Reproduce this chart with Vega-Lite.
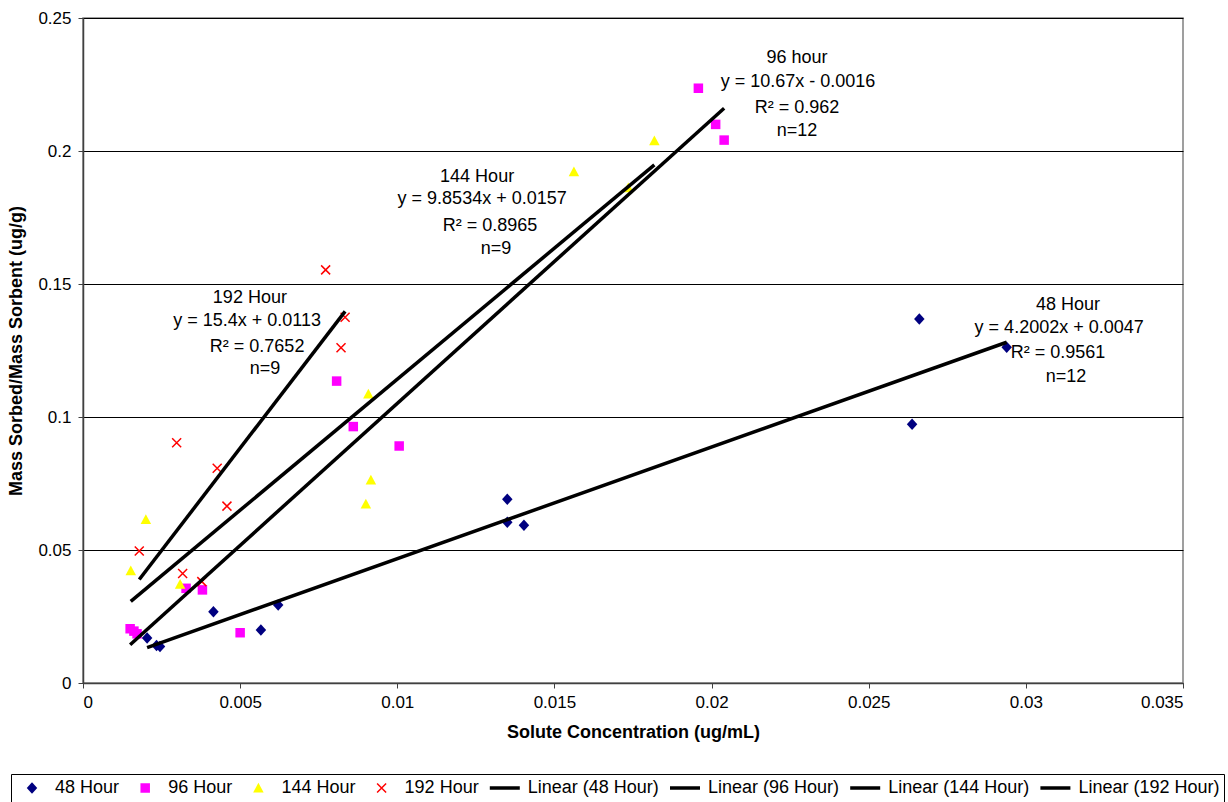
{
  "$schema": "https://vega.github.io/schema/vega-lite/v6.json",
  "width": 1100,
  "height": 665,
  "autosize": {"type": "none"},
  "padding": {"left": 83, "top": 18, "right": 45, "bottom": 119},
  "background": "white",
  "config": {
    "font": "Liberation Sans",
    "view": {"stroke": "#808080", "strokeWidth": 1.5},
    "axis": {
      "labelFont": "Liberation Sans",
      "labelFontSize": 17,
      "labelColor": "black",
      "titleFont": "Liberation Sans",
      "titleFontSize": 18,
      "titleFontWeight": "bold",
      "titleColor": "black",
      "domainColor": "#404040",
      "domainWidth": 1.5,
      "tickColor": "#404040",
      "tickSize": 5,
      "gridColor": "black",
      "gridWidth": 1,
      "gridOpacity": 1
    }
  },
  "datasets": {
    "points": [
      {"series": "48 Hour", "x": 0.00204, "y": 0.0169},
      {"series": "48 Hour", "x": 0.00234, "y": 0.0141},
      {"series": "48 Hour", "x": 0.00245, "y": 0.0137},
      {"series": "48 Hour", "x": 0.00415, "y": 0.0268},
      {"series": "48 Hour", "x": 0.00566, "y": 0.0199},
      {"series": "48 Hour", "x": 0.00621, "y": 0.0293},
      {"series": "48 Hour", "x": 0.0135, "y": 0.0691},
      {"series": "48 Hour", "x": 0.0135, "y": 0.0604},
      {"series": "48 Hour", "x": 0.01403, "y": 0.0593},
      {"series": "48 Hour", "x": 0.02661, "y": 0.1368},
      {"series": "48 Hour", "x": 0.02638, "y": 0.0973},
      {"series": "48 Hour", "x": 0.02939, "y": 0.1262},
      {"series": "96 Hour", "x": 0.0015, "y": 0.0204},
      {"series": "96 Hour", "x": 0.00162, "y": 0.0195},
      {"series": "96 Hour", "x": 0.00172, "y": 0.0185},
      {"series": "96 Hour", "x": 0.00328, "y": 0.0356},
      {"series": "96 Hour", "x": 0.0038, "y": 0.035},
      {"series": "96 Hour", "x": 0.005, "y": 0.0189},
      {"series": "96 Hour", "x": 0.00807, "y": 0.1135},
      {"series": "96 Hour", "x": 0.0086, "y": 0.0964},
      {"series": "96 Hour", "x": 0.01006, "y": 0.0891},
      {"series": "96 Hour", "x": 0.01958, "y": 0.2236},
      {"series": "96 Hour", "x": 0.02013, "y": 0.21},
      {"series": "96 Hour", "x": 0.0204, "y": 0.2041},
      {"series": "144 Hour", "x": 0.00152, "y": 0.0422},
      {"series": "144 Hour", "x": 0.002, "y": 0.0615},
      {"series": "144 Hour", "x": 0.00309, "y": 0.0371},
      {"series": "144 Hour", "x": 0.00908, "y": 0.1086},
      {"series": "144 Hour", "x": 0.00916, "y": 0.0763},
      {"series": "144 Hour", "x": 0.009, "y": 0.0673},
      {"series": "144 Hour", "x": 0.01562, "y": 0.1922},
      {"series": "144 Hour", "x": 0.01818, "y": 0.2039},
      {"series": "144 Hour", "x": 0.01735, "y": 0.1862},
      {"series": "192 Hour", "x": 0.00298, "y": 0.0903},
      {"series": "192 Hour", "x": 0.00179, "y": 0.0496},
      {"series": "192 Hour", "x": 0.00427, "y": 0.0807},
      {"series": "192 Hour", "x": 0.00458, "y": 0.0665},
      {"series": "192 Hour", "x": 0.00317, "y": 0.0412},
      {"series": "192 Hour", "x": 0.00378, "y": 0.0381},
      {"series": "192 Hour", "x": 0.00772, "y": 0.1553},
      {"series": "192 Hour", "x": 0.00834, "y": 0.1375},
      {"series": "192 Hour", "x": 0.00821, "y": 0.126}
    ],
    "trend": [
      {"series": "Linear (48 Hour)", "x": 0.00204, "y": 0.0133},
      {"series": "Linear (48 Hour)", "x": 0.02939, "y": 0.1281},
      {"series": "Linear (96 Hour)", "x": 0.0015, "y": 0.0144},
      {"series": "Linear (96 Hour)", "x": 0.0204, "y": 0.2161},
      {"series": "Linear (144 Hour)", "x": 0.00152, "y": 0.0307},
      {"series": "Linear (144 Hour)", "x": 0.01818, "y": 0.1948},
      {"series": "Linear (192 Hour)", "x": 0.00179, "y": 0.0389},
      {"series": "Linear (192 Hour)", "x": 0.00834, "y": 0.1397}
    ],
    "labels": [
      {"x": 0.02272, "y": 0.235, "text": "96 hour"},
      {"x": 0.02275, "y": 0.2259, "text": "y = 10.67x - 0.0016"},
      {"x": 0.02272, "y": 0.2162, "text": "R² = 0.962"},
      {"x": 0.02272, "y": 0.2075, "text": "n=12"},
      {"x": 0.01254, "y": 0.1902, "text": "144 Hour"},
      {"x": 0.0127, "y": 0.182, "text": "y = 9.8534x + 0.0157"},
      {"x": 0.01295, "y": 0.1718, "text": "R² = 0.8965"},
      {"x": 0.01314, "y": 0.1632, "text": "n=9"},
      {"x": 0.00531, "y": 0.1447, "text": "192 Hour"},
      {"x": 0.00522, "y": 0.1361, "text": "y = 15.4x + 0.0113"},
      {"x": 0.00554, "y": 0.1263, "text": "R² = 0.7652"},
      {"x": 0.00579, "y": 0.1181, "text": "n=9"},
      {"x": 0.03134, "y": 0.1421, "text": "48 Hour"},
      {"x": 0.03106, "y": 0.1335, "text": "y = 4.2002x + 0.0047"},
      {"x": 0.03102, "y": 0.1241, "text": "R² = 0.9561"},
      {"x": 0.03128, "y": 0.115, "text": "n=12"}
    ]
  },
  "encoding": {
    "x": {
      "field": "x",
      "type": "quantitative",
      "scale": {"domain": [0, 0.035], "nice": false},
      "axis": {
        "title": "Solute Concentration (ug/mL)",
        "values": [0, 0.005, 0.01, 0.015, 0.02, 0.025, 0.03, 0.035],
        "format": "~g",
        "grid": false,
        "labelPadding": 6,
        "titlePadding": 13
      }
    },
    "y": {
      "field": "y",
      "type": "quantitative",
      "scale": {"domain": [0, 0.25], "nice": false},
      "axis": {
        "title": "Mass Sorbed/Mass Sorbent (ug/g)",
        "values": [0, 0.05, 0.1, 0.15, 0.2, 0.25],
        "format": "~g",
        "grid": true,
        "labelPadding": 7,
        "titlePadding": 12
      }
    }
  },
  "layer": [
    {
      "data": {"name": "points"},
      "transform": [{"filter": "datum.series !== '192 Hour'"}],
      "mark": {"type": "point", "filled": true, "opacity": 1},
      "encoding": {
        "color": {
          "field": "series",
          "type": "nominal",
          "scale": {
            "domain": ["48 Hour", "96 Hour", "144 Hour", "192 Hour", "Linear (48 Hour)", "Linear (96 Hour)", "Linear (144 Hour)", "Linear (192 Hour)"],
            "range": ["#000080", "#FF00FF", "#FFFF00", "#FF0000", "black", "black", "black", "black"]
          },
          "legend": {
            "title": null,
            "orient": "none",
            "legendX": -72,
            "legendY": 756,
            "direction": "horizontal",
            "columns": 8,
            "strokeColor": "black",
            "padding": 4,
            "clipHeight": 20,
            "labelFont": "Liberation Sans",
            "labelFontSize": 18,
            "labelColor": "black",
            "labelOffset": 6,
            "columnPadding": 8.2,
            "labelLimit": 300
          }
        },
        "shape": {
          "field": "series",
          "type": "nominal",
          "scale": {
            "domain": ["48 Hour", "96 Hour", "144 Hour", "192 Hour", "Linear (48 Hour)", "Linear (96 Hour)", "Linear (144 Hour)", "Linear (192 Hour)"],
            "range": ["M0,-1.15L1.05,0L0,1.15L-1.05,0Z", "M-0.95,-0.95H0.95V0.95H-0.95Z", "M0,-1.05L1.05,0.9H-1.05Z", "M-0.9,-0.9L0.9,0.9M0.9,-0.9L-0.9,0.9", "stroke", "stroke", "stroke", "stroke"]
          }
        },
        "size": {
          "field": "series",
          "type": "nominal",
          "scale": {
            "type": "ordinal",
            "domain": ["48 Hour", "96 Hour", "144 Hour", "192 Hour", "Linear (48 Hour)", "Linear (96 Hour)", "Linear (144 Hour)", "Linear (192 Hour)"],
            "range": [100, 100, 100, 100, 900, 900, 900, 900]
          }
        },
        "strokeWidth": {
          "field": "series",
          "type": "nominal",
          "scale": {
            "type": "ordinal",
            "domain": ["48 Hour", "96 Hour", "144 Hour", "192 Hour", "Linear (48 Hour)", "Linear (96 Hour)", "Linear (144 Hour)", "Linear (192 Hour)"],
            "range": [0, 0, 0, 1.5, 3.5, 3.5, 3.5, 3.5]
          }
        }
      }
    },
    {
      "data": {"name": "points"},
      "transform": [{"filter": "datum.series === '192 Hour'"}],
      "mark": {"type": "point", "filled": false, "opacity": 1, "size": 100, "strokeWidth": 1.5, "shape": "M-0.9,-0.9L0.9,0.9M0.9,-0.9L-0.9,0.9"},
      "encoding": {
        "color": {"field": "series", "type": "nominal"}
      }
    },
    {
      "data": {"name": "trend"},
      "mark": {"type": "line", "strokeWidth": 3.5},
      "encoding": {
        "color": {"field": "series", "type": "nominal"},
        "detail": {"field": "series"}
      }
    },
    {
      "data": {"name": "labels"},
      "mark": {"type": "text", "font": "Liberation Sans", "fontSize": 18, "color": "black", "align": "center", "baseline": "middle"},
      "encoding": {
        "text": {"field": "text"}
      }
    }
  ]
}
